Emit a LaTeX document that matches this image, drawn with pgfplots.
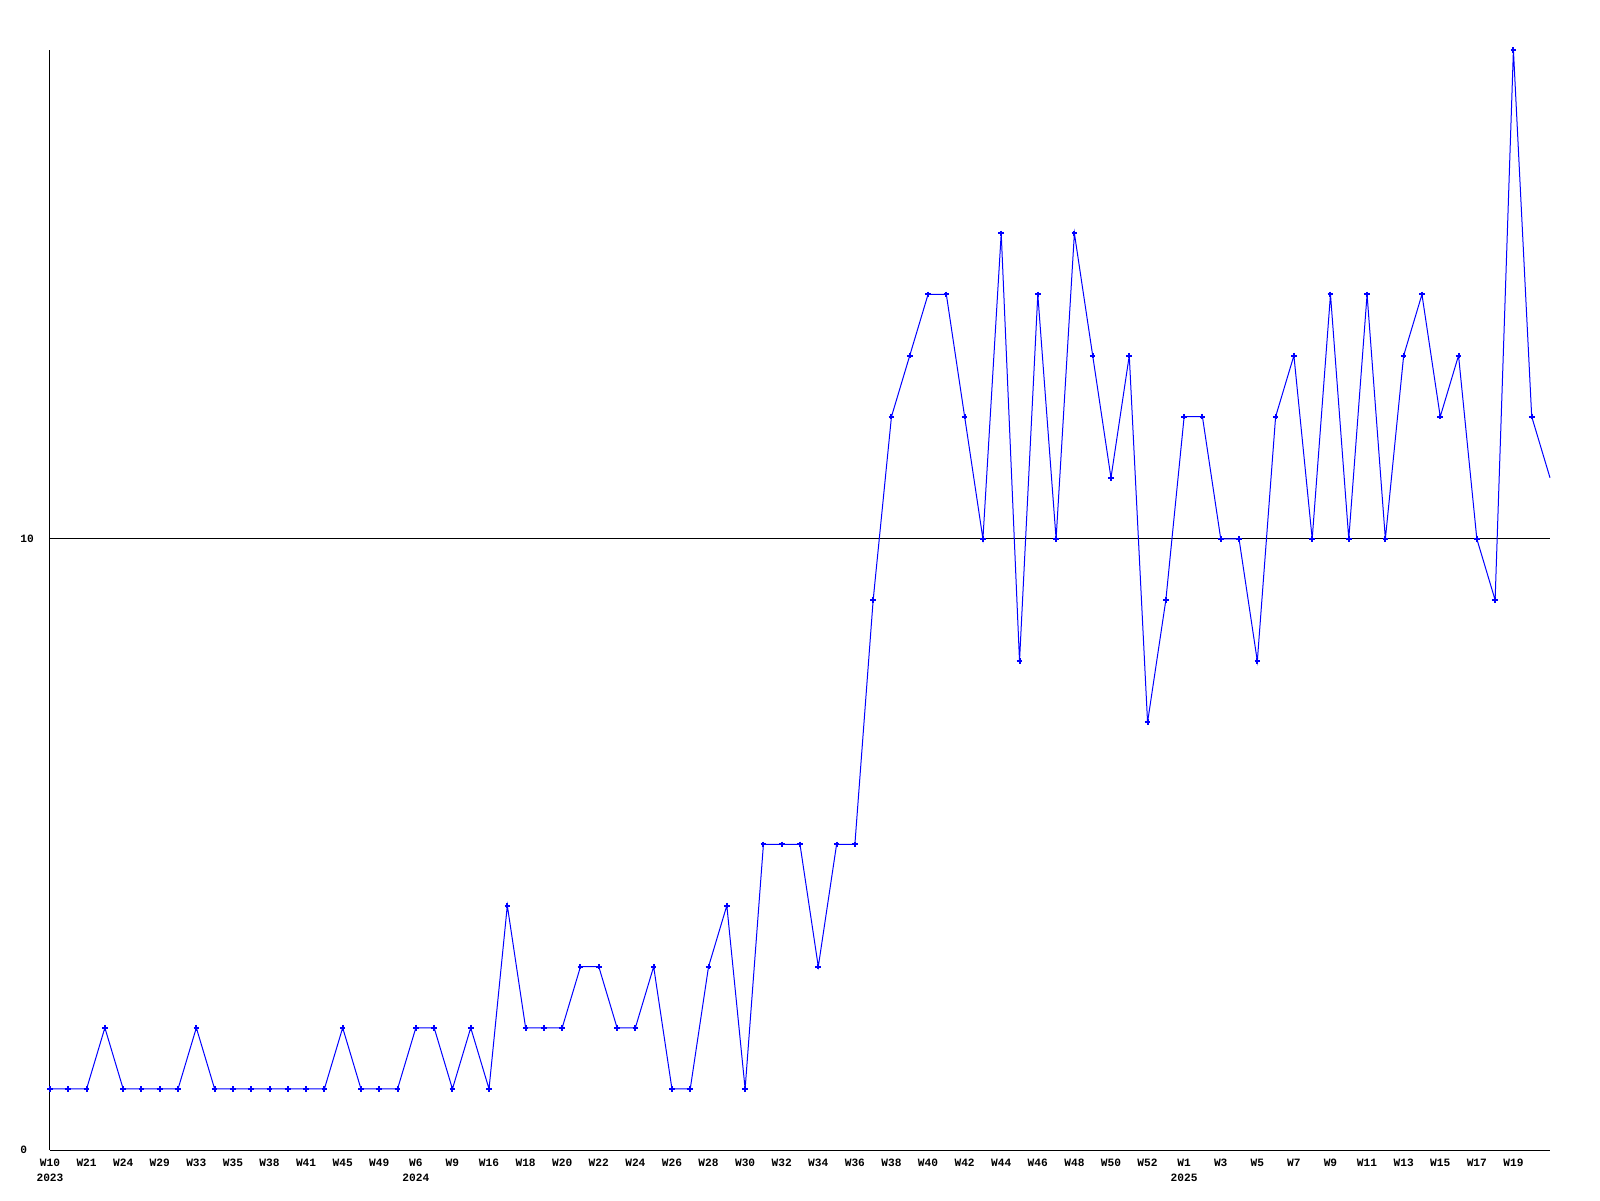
\documentclass[border=0pt]{standalone}
\usepackage{pgfplots}
\pgfplotsset{compat=1.18}
\usepackage{fontspec}
\setmonofont{Liberation Mono}
\newcommand{\lblfont}{\fontsize{5.6}{7.5}\selectfont\ttfamily\bfseries}
\begin{document}
\begin{tikzpicture}
\path[use as bounding box] (-25pt,-25pt) rectangle (775pt,575pt);
\begin{axis}[
  at={(0,0)}, anchor=south west,
  scale only axis, width=750pt, height=550pt,
  xmin=0, xmax=82, ymin=0, ymax=18,
  axis x line=bottom, axis y line=left,
  axis line style={-, black, line width=0.5pt},
  xtick={0,2,...,80},
  xticklabels={{W10\\2023},W21,W24,W29,W33,W35,W38,W41,W45,W49,{W6\\2024},W9,W16,W18,W20,W22,W24,W26,W28,W30,W32,W34,W36,W38,W40,W42,W44,W46,W48,W50,W52,{W1\\2025},W3,W5,W7,W9,W11,W13,W15,W17,W19},
  ytick={0,10},
  /pgf/number format/assume math mode=true,
  major tick length=0pt,
  ymajorgrids, grid style={black, line width=0.5pt},
  xticklabel style={font=\lblfont, align=center, anchor=north, inner sep=0pt, yshift=-4.5pt},
  yticklabel style={font=\lblfont, anchor=west, inner sep=0pt, xshift=-15pt},
  clip=false,
]
\addplot[color={rgb,255:red,0;green,0;blue,255}, line width=0.5pt, mark=+, mark size=1.4pt, mark options={line width=1pt}, mark indices={1,...,82}] coordinates {
(0,1) (1,1) (2,1) (3,2) (4,1) (5,1) (6,1) (7,1) (8,2) (9,1)
(10,1) (11,1) (12,1) (13,1) (14,1) (15,1) (16,2) (17,1) (18,1) (19,1)
(20,2) (21,2) (22,1) (23,2) (24,1) (25,4) (26,2) (27,2) (28,2) (29,3)
(30,3) (31,2) (32,2) (33,3) (34,1) (35,1) (36,3) (37,4) (38,1) (39,5)
(40,5) (41,5) (42,3) (43,5) (44,5) (45,9) (46,12) (47,13) (48,14) (49,14)
(50,12) (51,10) (52,15) (53,8) (54,14) (55,10) (56,15) (57,13) (58,11) (59,13)
(60,7) (61,9) (62,12) (63,12) (64,10) (65,10) (66,8) (67,12) (68,13) (69,10)
(70,14) (71,10) (72,14) (73,10) (74,13) (75,14) (76,12) (77,13) (78,10) (79,9)
(80,18) (81,12) (82,11)
};
\end{axis}
\end{tikzpicture}
\end{document}
